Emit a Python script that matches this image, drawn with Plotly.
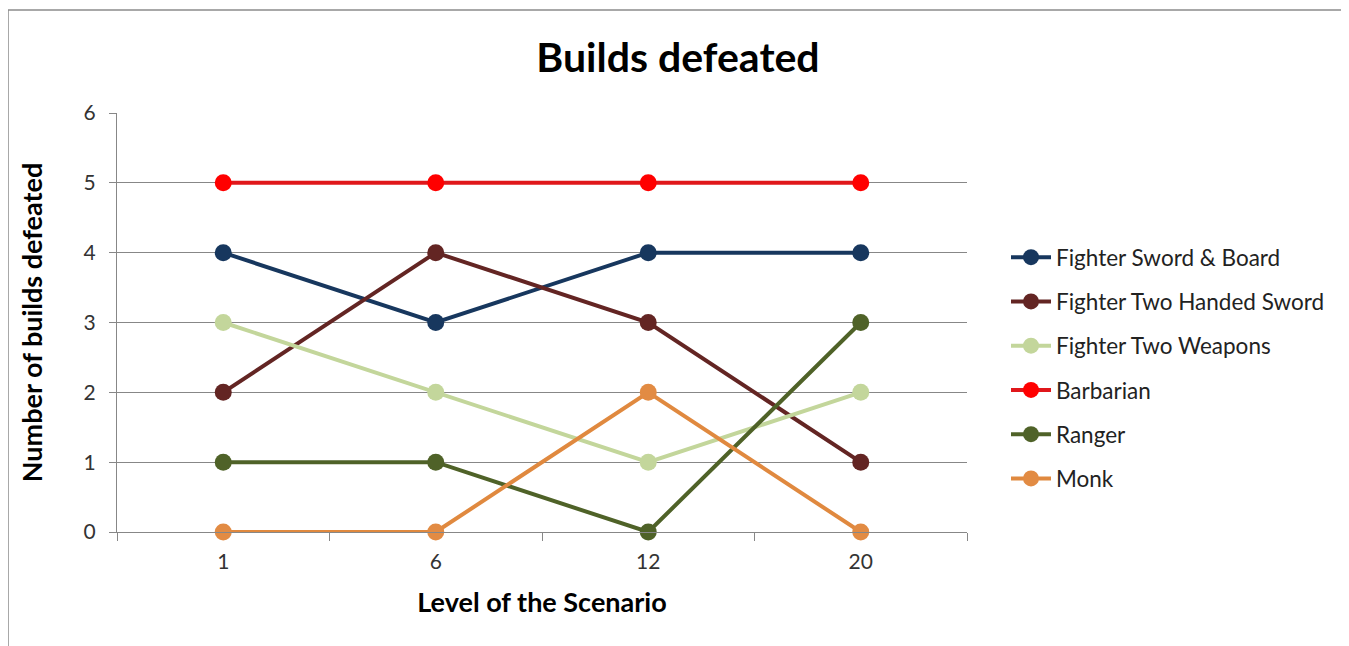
import plotly.graph_objects as go

# Scenario levels (category axis) and builds defeated per character build
levels = ["1", "6", "12", "20"]

sword_and_board = [4, 3, 4, 4]
two_handed_sword = [2, 4, 3, 1]
two_weapons = [3, 2, 1, 2]
barbarian = [5, 5, 5, 5]
ranger = [1, 1, 0, 3]
monk = [0, 0, 2, 0]

series = [
    ("Fighter Sword & Board", sword_and_board, "#17375E", "#17375E"),
    ("Fighter Two Handed Sword", two_handed_sword, "#632523", "#632523"),
    ("Fighter Two Weapons", two_weapons, "#C3D69B", "#C3D69B"),
    ("Barbarian", barbarian, "#E0171B", "#FF0000"),
    ("Ranger", ranger, "#4F6228", "#4F6228"),
    ("Monk", monk, "#E0893F", "#E28B43"),
]

FONT = "Lato, 'Open Sans', sans-serif"
GRID = "#878787"
OFF = 8  # the page draws the figure 8px in from the top-left corner

fig = go.Figure()
for name, vals, line_col, mark_col in series:
    fig.add_trace(go.Scatter(
        x=levels, y=vals, name=name, mode="lines+markers",
        line=dict(color=line_col, width=4),
        marker=dict(color=mark_col, size=17),
        cliponaxis=False, legendgroup=name,
    ))

# plot area spans x 117..967 and y 113..532 on the screen
L, R, T, B = 117, 967, 113, 532
pw, ph = R - L, B - T
W, H = 1349, 646


def px(x):
    return (x - L) / pw


def py(y):
    return (B - y) / ph


# outer chart frame (no bottom edge visible in the source)
fig.add_shape(
    type="path", xref="paper", yref="paper",
    path=f"M {px(8)},{py(700)} L {px(8)},{py(10)} L {px(1346)},{py(10)} L {px(1346)},{py(700)}",
    line=dict(color="#8C8C8C", width=1.5),
)

fig.update_layout(
    width=W, height=H, autosize=False,
    margin=dict(l=L - OFF, r=W - pw - (L - OFF), t=T - OFF, b=H - ph - (T - OFF), pad=0),
    paper_bgcolor="white", plot_bgcolor="white",
    font=dict(family=FONT, color="#333333", size=21),
    title=dict(text="<b>Builds defeated</b>", x=(678 - OFF) / W, xref="container",
               xanchor="center", y=1 - (58 - OFF) / H, yref="container", yanchor="middle",
               font=dict(family=FONT, size=41, color="#000000")),
    showlegend=True,
    legend=dict(x=px(1006), y=py(236), xanchor="left", yanchor="top",
                font=dict(family=FONT, size=22.5, color="#222222"),
                tracegroupgap=12, itemwidth=40, bgcolor="rgba(0,0,0,0)"),
    xaxis=dict(
        type="category", range=[-0.5, 3.5], tickson="boundaries",
        ticks="outside", ticklen=8, tickcolor=GRID,
        showgrid=False, showline=True, linecolor=GRID, linewidth=1,
        tickfont=dict(family=FONT, size=21, color="#333333"),
        ticklabelstandoff=11,
        title=dict(text="<b>Level of the Scenario</b>", standoff=20,
                   font=dict(family=FONT, size=27, color="#000000")),
    ),
    yaxis=dict(
        range=[0, 6], dtick=1, ticks="outside", ticklen=7, tickcolor=GRID,
        showgrid=True, gridcolor=GRID, gridwidth=1,
        showline=True, linecolor=GRID, linewidth=1, zeroline=False,
        tickfont=dict(family=FONT, size=21, color="#333333"),
        ticklabelstandoff=9,
        title=dict(text="<b>Number of builds defeated</b>", standoff=33,
                   font=dict(family=FONT, size=27, color="#000000")),
    ),
)

fig.write_html("out.html")
